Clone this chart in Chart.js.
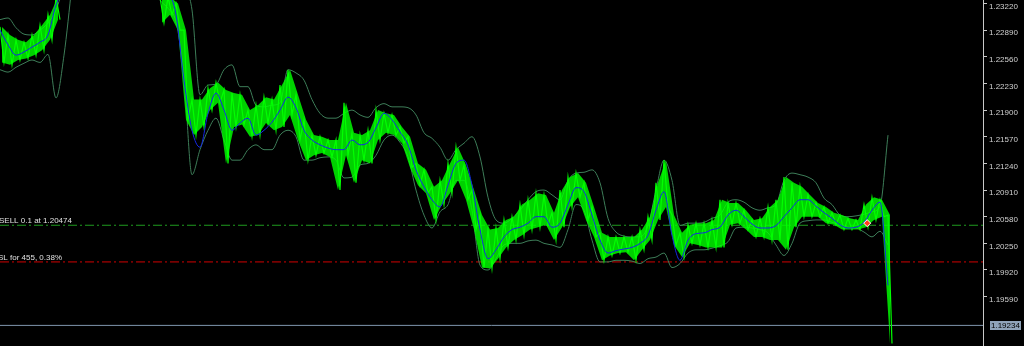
<!DOCTYPE html>
<html>
<head>
<meta charset="utf-8">
<script src="https://cdn.jsdelivr.net/npm/chart.js@4.4.0/dist/chart.umd.min.js"></script>
<style>
  html, body { margin: 0; padding: 0; background: #000; }
  #wrap { width: 1024px; height: 346px; }
</style>
</head>
<body>
<div id="wrap"><canvas id="chart"></canvas></div>
<script>
// bar highs / lows, one entry per bar slot (null = price above the visible window)
const priceHigh = [
  1.2293, 1.2283, 1.2277, 1.2274, 1.2283, 1.2295, 1.2308, 1.2330,
  null, null, null, null, null, null, null, null, null, null, null, null,
  1.2330, 1.2330, 1.2322, 1.2289, 1.2203, 1.2203, 1.2217, 1.2224, 1.2215, 1.2211,
  1.2209, 1.2190, 1.2196, 1.2206, 1.2203, 1.2221, 1.2240, 1.2209, 1.2178, 1.2159,
  1.2157, 1.2153, 1.2153, 1.2199, 1.2162, 1.2159, 1.2165, 1.2190, 1.2186, 1.2184,
  1.2169, 1.2157, 1.2124, 1.2116, 1.2095, 1.2103, 1.2124, 1.2144, 1.2122, 1.2091,
  1.2060, 1.2042, 1.2044, 1.2054, 1.2058, 1.2073, 1.2079, 1.2087, 1.2085, 1.2063,
  1.2091, 1.2107, 1.2112, 1.2100, 1.2070, 1.2038, 1.2033, 1.2033, 1.2033, 1.2033,
  1.2042, 1.2058, 1.2100, 1.2128, 1.2060, 1.2038, 1.2048, 1.2050, 1.2050, 1.2054,
  1.2079, 1.2075, 1.2075, 1.2066, 1.2054, 1.2056, 1.2070, 1.2079, 1.2107, 1.2100,
  1.2095, 1.2085, 1.2075, 1.2070, 1.2063, 1.2060, 1.2056, 1.2054, 1.2073, 1.2082,
  1.2079, 1.2060
];
const priceLow = [
  1.2249, 1.2246, 1.2252, 1.2254, 1.2258, 1.2264, 1.2277, 1.2302,
  null, null, null, null, null, null, null, null, null, null, null, null,
  1.2298, 1.2308, 1.2289, 1.2178, 1.2159, 1.2169, 1.2190, 1.2199, 1.2124, 1.2169,
  1.2172, 1.2157, 1.2159, 1.2174, 1.2165, 1.2169, 1.2184, 1.2153, 1.2128, 1.2134,
  1.2137, 1.2132, 1.2091, 1.2134, 1.2100, 1.2128, 1.2124, 1.2153, 1.2162, 1.2159,
  1.2149, 1.2119, 1.2097, 1.2087, 1.2054, 1.2073, 1.2087, 1.2103, 1.2079, 1.2042,
  1.1995, 1.1994, 1.2006, 1.2020, 1.2029, 1.2035, 1.2042, 1.2045, 1.2048, 1.2029,
  1.2045, 1.2070, 1.2082, 1.2054, 1.2033, 1.2004, 1.2010, 1.2013, 1.2014, 1.2004,
  1.2017, 1.2029, 1.2054, 1.2070, 1.2023, 1.2008, 1.2025, 1.2023, 1.2020, 1.2020,
  1.2020, 1.2048, 1.2050, 1.2042, 1.2033, 1.2033, 1.2029, 1.2029, 1.2017, 1.2045,
  1.2058, 1.2058, 1.2058, 1.2050, 1.2048, 1.2042, 1.2042, 1.2042, 1.2045, 1.2054,
  1.2058, 1.1901
];
const maValues = [
  1.2289, 1.2271, 1.2258, 1.2262, 1.2268, 1.2274, 1.2283, 1.2320, 1.2340,
  null, null, null, null, null, null, null, null, null, null, null, null,
  1.2340, 1.2308, 1.2227, 1.2165, 1.2144, 1.2186, 1.2211, 1.2190, 1.2165,
  1.2174, 1.2180, 1.2159, 1.2165, 1.2175, 1.2190, 1.2206, 1.2193, 1.2165, 1.2153,
  1.2147, 1.2143, 1.2141, 1.2141, 1.2153, 1.2147, 1.2150, 1.2168, 1.2186, 1.2178,
  1.2163, 1.2147, 1.2116, 1.2095, 1.2079, 1.2070, 1.2097, 1.2124, 1.2128, 1.2097,
  1.2042, 1.2006, 1.2017, 1.2033, 1.2042, 1.2045, 1.2050, 1.2058, 1.2058, 1.2045,
  1.2050, 1.2073, 1.2094, 1.2089, 1.2060, 1.2029, 1.2013, 1.2016, 1.2018, 1.2020,
  1.2025, 1.2035, 1.2066, 1.2089, 1.2035, 1.2004, 1.2029, 1.2037, 1.2038, 1.2042,
  1.2045, 1.2060, 1.2066, 1.2058, 1.2049, 1.2044, 1.2044, 1.2047, 1.2058, 1.2069,
  1.2079, 1.2079, 1.2071, 1.2063, 1.2056, 1.2048, 1.2044, 1.2045, 1.2051, 1.2066,
  1.2076, 1.1973
];
const upperBand = [
  1.2302, 1.2304, 1.2292, 1.2284, 1.2283, 1.2289, 1.2298, 1.2314, 1.2345,
  null, null, null, null, null, null, null, null, null, null, null, null, null, null,
  1.2345, 1.2314, 1.2209, 1.2221, 1.2222, 1.2240, 1.2246,
  1.2219, 1.2219, 1.2196, 1.2194, 1.2196, 1.2199, 1.2240, 1.2236, 1.2227, 1.2203,
  1.2186, 1.2180, 1.2180, 1.2186, 1.2190, 1.2184, 1.2181, 1.2193, 1.2198, 1.2194,
  1.2194, 1.2193, 1.2184, 1.2162, 1.2155, 1.2144, 1.2128, 1.2141, 1.2149, 1.2157,
  1.2132, 1.2082, 1.2054, 1.2050, 1.2056, 1.2066, 1.2079, 1.2089, 1.2091, 1.2085,
  1.2079, 1.2103, 1.2112, 1.2113, 1.2116, 1.2100, 1.2056, 1.2039, 1.2034, 1.2033,
  1.2033, 1.2047, 1.2091, 1.2128, 1.2103, 1.2047, 1.2050, 1.2050, 1.2051, 1.2056,
  1.2060, 1.2076, 1.2079, 1.2076, 1.2069, 1.2066, 1.2069, 1.2073, 1.2103, 1.2112,
  1.2110, 1.2107, 1.2100, 1.2081, 1.2073, 1.2060, 1.2058, 1.2059, 1.2061, 1.2064,
  1.2071, 1.2159
];
const lowerBand = [
  1.2240, 1.2237, 1.2243, 1.2248, 1.2252, 1.2249, 1.2259, 1.2205, 1.2258, 1.2345,
  null, null, null, null, null, null, null, null, null,
  1.2345, 1.2326, 1.2316, 1.2299, 1.2233, 1.2110, 1.2141, 1.2165, 1.2180, 1.2153, 1.2128,
  1.2128, 1.2141, 1.2147, 1.2141, 1.2141, 1.2159, 1.2165, 1.2157, 1.2128, 1.2128,
  1.2131, 1.2132, 1.2128, 1.2106, 1.2107, 1.2122, 1.2124, 1.2134, 1.2153, 1.2159,
  1.2150, 1.2132, 1.2091, 1.2060, 1.2044, 1.2064, 1.2073, 1.2103, 1.2103, 1.2066,
  1.1998, 1.1992, 1.2006, 1.2023, 1.2025, 1.2025, 1.2028, 1.2029, 1.2025, 1.2023,
  1.2020, 1.2042, 1.2073, 1.2066, 1.2029, 1.2002, 1.2002, 1.2004, 1.2004, 1.2003,
  1.2000, 1.2006, 1.2008, 1.2013, 1.1995, 1.2000, 1.2013, 1.2017, 1.2017, 1.2019,
  1.2022, 1.2027, 1.2044, 1.2045, 1.2044, 1.2042, 1.2038, 1.2023, 1.2010, 1.2025,
  1.2050, 1.2053, 1.2054, 1.2054, 1.2051, 1.2048, 1.2045, 1.2044, 1.2039, 1.2033,
  1.2040, 1.2023
];

const tickLabels = [1.23220, 1.22890, 1.22560, 1.22230, 1.21900, 1.21570,
  1.21240, 1.20910, 1.20580, 1.20250, 1.19920, 1.19590];
const sellPrice = 1.20474;
const stopPrice = 1.20020;
const lastPrice = 1.19234;
const sellText = 'SELL 0.1 at 1.20474';
const stopText = 'SL for 455, 0.38%';
const tradeX = [108.4];
const tradeY = [1.2050];

const yMin = 1.18979, yMax = 1.23263;
const xMax = 122.875;

// high/low zigzag over a filled high-low band gives the dense tick-chart look
const pricePoints = [];
priceHigh.forEach((h, i) => {
  if (h === null) { pricePoints.push({ x: i, y: null }); return; }
  pricePoints.push({ x: i, y: h });
  pricePoints.push({ x: i + 0.5, y: priceLow[i] });
});
const at = (arr, shift) => arr.map((v, i) => ({ x: i + shift, y: v }));
const flat = v => [{ x: 0, y: v }, { x: xMax, y: v }];

const overlay = {
  id: 'overlay',
  afterDraw(chart) {
    const { ctx, scales: { y }, chartArea } = chart;
    ctx.save();
    ctx.font = '8px "Liberation Sans"';
    ctx.fillStyle = '#e0e0e0';
    ctx.textBaseline = 'alphabetic';
    ctx.fillText(sellText, -1, y.getPixelForValue(sellPrice) - 2);
    ctx.fillText(stopText, -2, y.getPixelForValue(stopPrice) - 2);

    const py = Math.round(y.getPixelForValue(lastPrice));
    ctx.fillStyle = '#8fa3b9';
    ctx.fillRect(chartArea.right + 7, py - 4, 31, 9);
    ctx.fillStyle = '#000';
    ctx.textBaseline = 'middle';
    ctx.fillText(lastPrice.toFixed(5), chartArea.right + 8, py + 0.5);
    ctx.restore();
  }
};

// note: Chart.js paints dataset 0 on top, so the list runs front to back
new Chart(document.getElementById('chart'), {
  type: 'line',
  data: {
    datasets: [
      { type: 'scatter', data: tradeX.map((x, i) => ({ x, y: tradeY[i] })),
        pointStyle: 'rectRot', pointRadius: 3.5, backgroundColor: '#ff3b1f', borderColor: '#ffffff', borderWidth: 1 },
      { data: at(maValues, 0), borderColor: '#1428e6', borderWidth: 1, pointRadius: 0, cubicInterpolationMode: 'monotone' },
      { data: pricePoints, borderColor: '#00ff00', borderWidth: 1.2, pointRadius: 0 },
      { data: at(priceHigh, 0.25), borderWidth: 0, pointRadius: 0, fill: '+1', backgroundColor: 'rgba(0,255,0,0.82)' },
      { data: at(priceLow, 0.25), borderWidth: 0, pointRadius: 0 },
      { data: at(upperBand, 0), borderColor: '#3d7d58', borderWidth: 1, pointRadius: 0, cubicInterpolationMode: 'monotone' },
      { data: at(lowerBand, 0), borderColor: '#3d7d58', borderWidth: 1, pointRadius: 0, cubicInterpolationMode: 'monotone' },
      { data: flat(sellPrice), borderColor: '#1f9a1f', borderWidth: 1, borderDash: [9, 3, 2, 3], pointRadius: 0 },
      { data: flat(stopPrice), borderColor: '#d00000', borderWidth: 1, borderDash: [9, 3, 2, 3], pointRadius: 0 },
      { data: flat(lastPrice), borderColor: '#7f96ae', borderWidth: 1, pointRadius: 0 }
    ]
  },
  options: {
    responsive: true,
    maintainAspectRatio: false,
    animation: false,
    spanGaps: false,
    layout: { padding: 0, autoPadding: false },
    plugins: { legend: { display: false }, tooltip: { enabled: false } },
    scales: {
      x: { type: 'linear', min: 0, max: xMax, display: false, offset: false },
      y: {
        position: 'right',
        min: yMin,
        max: yMax,
        afterBuildTicks: s => { s.ticks = tickLabels.map(v => ({ value: v })); },
        afterFit: s => {
          s.width = 41;
          s.paddingTop = 0; s.paddingBottom = 0; s.paddingLeft = 0; s.paddingRight = 0;
        },
        grid: { drawOnChartArea: false, color: '#c8c8c8', tickLength: 4 },
        border: { color: '#c8c8c8' },
        ticks: {
          color: '#d0d0d0',
          font: { family: 'Liberation Sans', size: 8 },
          padding: 2,
          labelOffset: 3,
          callback: v => v.toFixed(5)
        }
      }
    }
  },
  plugins: [overlay]
});
</script>
</body>
</html>
